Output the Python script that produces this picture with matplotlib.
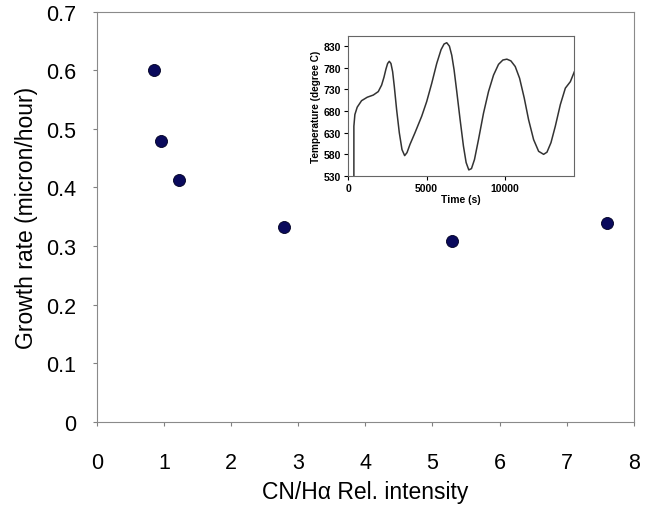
import matplotlib.pyplot as plt

plt.rcParams['font.family'] = ['Liberation Sans', 'DejaVu Sans']

# main scatter data
cn_ratio = [0.85, 0.96, 1.22, 2.79, 5.29, 7.60]
growth_rate = [0.60, 0.48, 0.412, 0.333, 0.308, 0.34]

# inset temperature trace
time_s = [362, 362, 426, 574, 851, 1213, 1596, 1915, 2128, 2277, 2404, 2511,
          2617, 2723, 2830, 2936, 3085, 3255, 3426, 3596, 3745, 3936, 4255,
          4681, 5000, 5319, 5638, 5915, 6106, 6277, 6447, 6596, 6745, 6915,
          7128, 7340, 7511, 7681, 7851, 8043, 8298, 8617, 8936, 9255, 9574,
          9851, 10106, 10362, 10638, 10915, 11213, 11489, 11809, 12128, 12447,
          12660, 12915, 13191, 13511, 13830, 14149, 14404]
temp_c = [530, 645, 672, 689, 704, 712, 717, 725, 740, 758, 777, 790,
          795, 790, 771, 737, 683, 630, 591, 577, 584, 603, 630,
          668, 702, 744, 790, 822, 835, 838, 830, 809, 775, 725,
          660, 599, 561, 544, 547, 568, 614, 675, 725, 763, 788,
          798, 800, 796, 783, 756, 710, 660, 614, 587, 580,
          585, 607, 645, 695, 733, 748, 771]

fig = plt.figure(figsize=(6.46, 5.10), dpi=100)
ax = fig.add_axes([0.150, 0.171, 0.831, 0.804])
ax.scatter(cn_ratio, growth_rate, s=75, color='#0a0a5c', edgecolors='#000022',
           linewidths=0.6, zorder=3)
ax.set_xlim(0, 8)
ax.set_ylim(0, 0.7)
ax.set_xticks(range(0, 9))
ax.set_yticks([0, 0.1, 0.2, 0.3, 0.4, 0.5, 0.6, 0.7])
ax.set_yticklabels(['0', '0.1', '0.2', '0.3', '0.4', '0.5', '0.6', '0.7'])
ax.tick_params(labelsize=15.5, direction='out', length=3, color='#808080')
ax.tick_params(axis='x', pad=19)
ax.tick_params(axis='y', pad=12)
for s in ax.spines.values():
    s.set_color('#8a8a8a')
ax.set_xlabel('CN/H\u03b1 Rel. intensity', fontsize=16.5, labelpad=5)
ax.set_ylabel('Growth rate (micron/hour)', fontsize=16.5, labelpad=6)

ins = fig.add_axes([0.539, 0.653, 0.350, 0.274])
ins.plot(time_s, temp_c, color='#333333', lw=1.1)
ins.set_xlim(0, 14400)
ins.set_ylim(530, 853)
ins.set_xticks([0, 5000, 10000])
ins.set_yticks([530, 580, 630, 680, 730, 780, 830])
ins.tick_params(labelsize=7.5, direction='out', length=3, pad=2)
for lab in ins.get_xticklabels() + ins.get_yticklabels():
    lab.set_fontweight('bold')
ins.set_xlabel('Time (s)', fontsize=7.5, fontweight='bold', labelpad=1)
ins.set_ylabel('Temperature (degree C)', fontsize=7.2, fontweight='bold', labelpad=2)
for s in ins.spines.values():
    s.set_color('#666666')

fig.savefig('out.png', dpi=100)
